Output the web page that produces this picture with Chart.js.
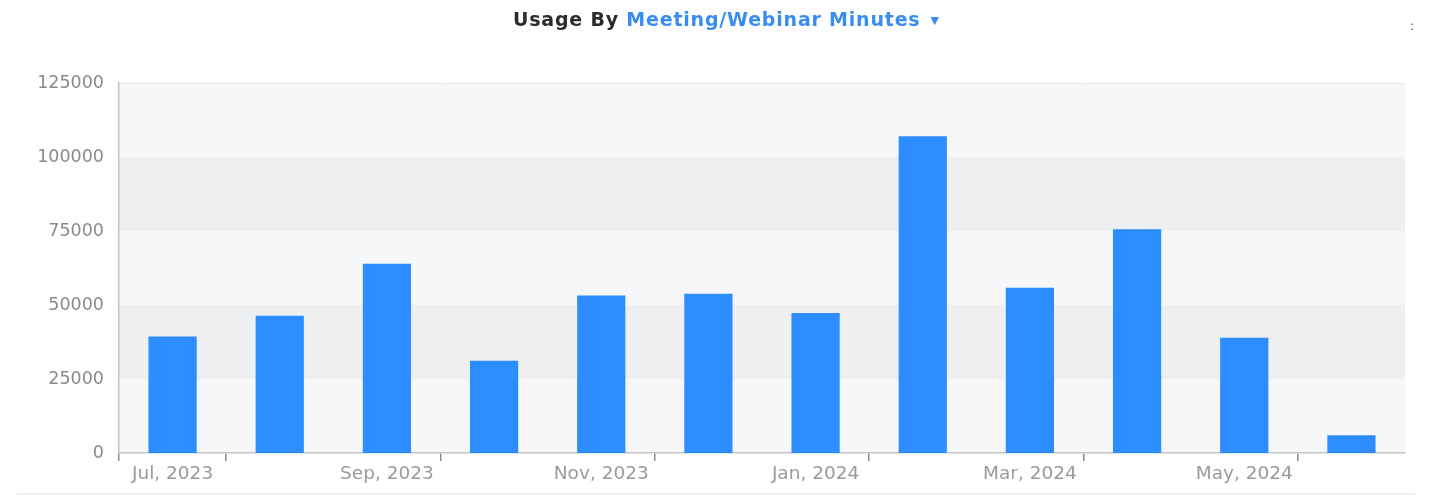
<!DOCTYPE html>
<html>
<head>
<meta charset="utf-8">
<script src="https://cdn.jsdelivr.net/npm/chart.js@4"></script>
<style>
  html, body { margin: 0; padding: 0; background: #fff; width: 1437px; height: 496px; overflow: hidden; font-family: "DejaVu Sans", sans-serif; }
  #wrap { position: relative; width: 1437px; height: 496px; }
  #chart { position: absolute; left: 0; top: 0; }
  #title { position: absolute; top: 10px; left: 513px; white-space: nowrap; font-weight: bold; font-size: 19px; line-height: 19px; letter-spacing: 0.8px; color: #2b2b2b; }
  #title .sel { color: #3a8df0; }
  #title .caret { color: #3a8df0; font-size: 11px; margin-left: 10px; vertical-align: 2px; letter-spacing: 0; }
  #menu { position: absolute; left: 1410px; top: 18px; font-size: 13px; color: #666; }
  #sep { position: absolute; left: 17px; top: 493px; width: 1398px; height: 2px; background: #eeeff1; }
</style>
</head>
<body>
<div id="wrap">
  <canvas id="chart" width="1437" height="496"></canvas>
  <div id="title">Usage By <span class="sel">Meeting/Webinar Minutes</span><span class="caret">▼</span></div>
  <div id="menu">:</div>
  <div id="sep"></div>
</div>
<script>
// ---- data ----
const categories = ['Jul, 2023', 'Aug, 2023', 'Sep, 2023', 'Oct, 2023', 'Nov, 2023', 'Dec, 2023',
                    'Jan, 2024', 'Feb, 2024', 'Mar, 2024', 'Apr, 2024', 'May, 2024', 'Jun, 2024'];
const minutes = [39400, 46400, 63900, 31200, 53200, 53800, 47300, 107000, 55800, 75600, 38900, 6000];
const yTickValues = [0, 25000, 50000, 75000, 100000, 125000];

// ---- styles ----
const barColor = '#2d8cff';
const bandLight = '#f6f7f9';
const bandDark = '#eeeff1';
const axisColor = '#c4c4c4';

const bandPlugin = {
  id: 'bands',
  beforeDraw(chart) {
    const { ctx, chartArea: a, scales: { y } } = chart;
    ctx.save();
    for (let i = 0; i < yTickValues.length - 1; i++) {
      const y0 = y.getPixelForValue(yTickValues[i]);
      const y1 = y.getPixelForValue(yTickValues[i + 1]);
      ctx.fillStyle = i % 2 === 0 ? bandLight : bandDark;
      ctx.fillRect(a.left, y1, a.right - a.left, y0 - y1);
    }
    ctx.strokeStyle = '#e6e7e9';
    ctx.lineWidth = 1;
    ctx.beginPath();
    ctx.moveTo(a.left, Math.round(a.top) + 0.5);
    ctx.lineTo(a.right, Math.round(a.top) + 0.5);
    ctx.stroke();
    ctx.restore();
  }
};

new Chart(document.getElementById('chart'), {
  type: 'bar',
  data: {
    labels: categories,
    datasets: [{
      data: minutes,
      backgroundColor: barColor,
      borderWidth: 0,
      categoryPercentage: 1,
      barPercentage: 0.45
    }]
  },
  options: {
    responsive: false,
    animation: false,
    devicePixelRatio: 1,
    layout: { padding: { left: 0, right: 32, top: 83, bottom: 3 } },
    plugins: { legend: { display: false }, tooltip: { enabled: false }, title: { display: false } },
    scales: {
      x: {
        offset: true,
        grid: {
          offset: true,
          drawOnChartArea: false,
          drawTicks: true,
          tickLength: 8,
          lineWidth: 1.5,
          color: ctx => (ctx.index !== undefined && ctx.index < categories.length && (ctx.index === 0 || ctx.index % 2 === 1)) ? '#8c8c8c' : 'rgba(0,0,0,0)'
        },
        border: { display: true, color: axisColor, width: 1.5 },
        ticks: {
          autoSkip: false,
          maxRotation: 0,
          minRotation: 0,
          padding: 2,
          color: '#9a9a9a',
          font: { family: 'DejaVu Sans', size: 18.5 },
          callback: (v, i) => (i % 2 === 0 ? categories[i] : '')
        },
        afterFit: s => { s.height = 40; }
      },
      y: {
        min: 0,
        max: 125000,
        afterBuildTicks: s => { s.ticks = yTickValues.map(v => ({ value: v })); },
        grid: { display: false, drawTicks: false },
        border: { display: true, color: axisColor, width: 1.5 },
        ticks: {
          padding: 15,
          color: '#8a8a8a',
          font: { family: 'DejaVu Sans', size: 17.5 },
          callback: v => String(v)
        },
        afterFit: s => { s.width = 119; }
      }
    }
  },
  plugins: [bandPlugin]
});
</script>
</body>
</html>
